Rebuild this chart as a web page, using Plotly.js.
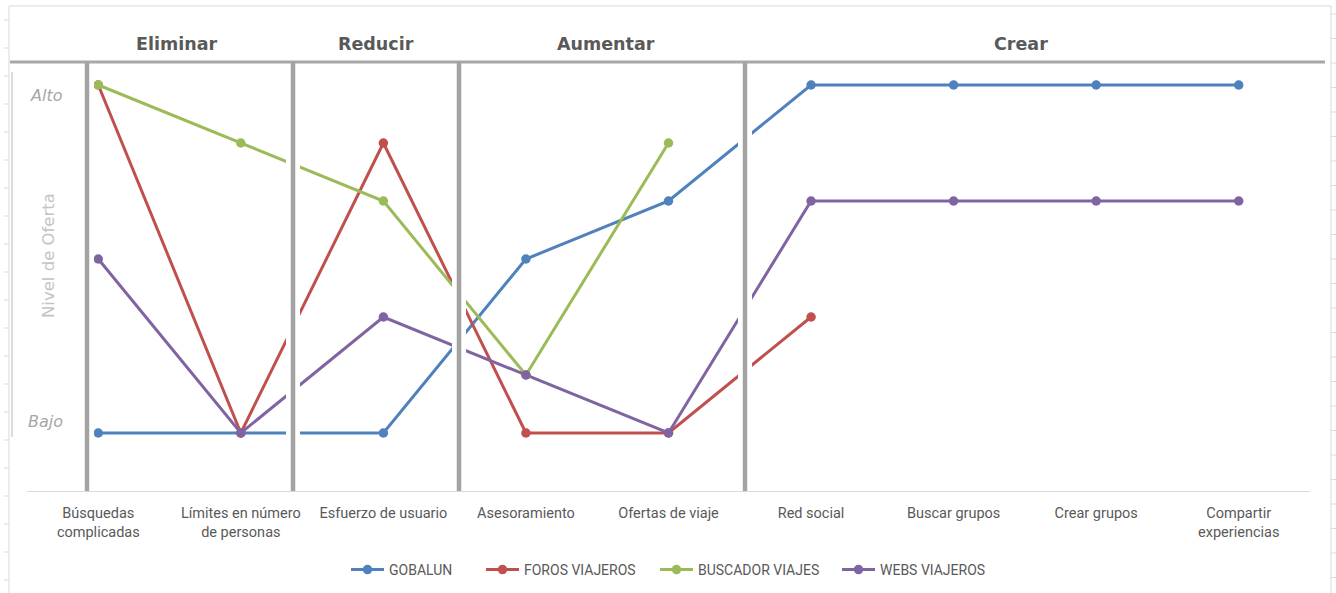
<!DOCTYPE html>
<html>
<head>
<meta charset="utf-8">
<script src="https://cdn.plot.ly/plotly-3.0.1.min.js"></script>
<style>html,body{margin:0;padding:0;background:#fff;}#chart{width:1336px;height:593px;}</style>
</head>
<body>
<div id="chart"></div>
<script>
// ---- data ----
const categories = ['Búsquedas<br>complicadas', 'Límites en número<br>de personas', 'Esfuerzo de usuario',
  'Asesoramiento', 'Ofertas de viaje', 'Red social', 'Buscar grupos', 'Crear grupos', 'Compartir<br>experiencias'];
const seriesNames = ['GOBALUN', 'FOROS VIAJEROS', 'BUSCADOR VIAJES', 'WEBS VIAJEROS'];
const gobalun = [1, 1, 1, 4, 5, 7, 7, 7, 7];
const foros = [7, 1, 6, 1, 1, 3, null, null, null];
const buscador = [7, 6, 5, 2, 6, null, null, null, null];
const webs = [4, 1, 3, 2, 1, 5, 5, 5, 5];
const groupLabels = ['Eliminar', 'Reducir', 'Aumentar', 'Crear'];
const levelLabels = ['Alto', 'Bajo'];
const yTitle = 'Nivel de Oferta';

// ---- layout geometry ----
const W = 1336, H = 593;
const M = {l: 27, r: 26, t: 27, b: 102, autoexpand: false};
const PW = W - M.l - M.r, PH = H - M.t - M.b;
const px2x = px => (px - M.l) / PW * 9 - 0.5;       // data x on category axis
const py2y = py => (M.t + PH - py) / PH * 8;          // data y
const px2p = px => (px - M.l) / PW;                   // paper x
const py2p = py => (M.t + PH - py) / PH;              // paper y

const colors = ['#4F81BD', '#C0504D', '#9BBB59', '#8064A2'];
const allSeries = [gobalun, foros, buscador, webs];
const legendIds = ['legend', 'legend2', 'legend3', 'legend4'];
const legendPx = [346, 481, 655, 837];

const traces = allSeries.map((vals, i) => ({
  type: 'scatter', mode: 'lines+markers',
  x: categories, y: vals, name: seriesNames[i],
  line: {color: colors[i], width: 3},
  marker: {color: colors[i], size: 9.5},
  connectgaps: false,
  legend: legendIds[i]
}));

const shapes = [];
// outer frame
shapes.push({type: 'rect', xref: 'paper', yref: 'paper', x0: px2p(9), x1: px2p(1331), y0: py2p(6), y1: py2p(610),
  line: {color: '#d9d9d9', width: 1}, layer: 'below'});
for (let py = 20; py < H; py += 28) {
  shapes.push({type: 'line', xref: 'paper', yref: 'paper', x0: px2p(4), x1: px2p(9), y0: py2p(py), y1: py2p(py),
    line: {color: '#d9d9d9', width: 1}});
}
for (let py = 14; py < H; py += 24.5) {
  shapes.push({type: 'line', xref: 'paper', yref: 'paper', x0: px2p(1331), x1: px2p(1336), y0: py2p(py), y1: py2p(py),
    line: {color: '#d9d9d9', width: 1}});
}
// inner left line
shapes.push({type: 'line', xref: 'paper', yref: 'paper', x0: px2p(12), x1: px2p(12), y0: py2p(72), y1: py2p(437),
  line: {color: '#d0d0d0', width: 1.5}});

// separators
const sepPx = [87, 293, 459, 745];
sepPx.forEach(p => {
  shapes.push({type: 'rect', xref: 'x', yref: 'y', x0: px2x(p - 7), x1: px2x(p + 7), y0: py2y(489), y1: py2y(63),
    fillcolor: '#ffffff', line: {width: 0}, layer: 'above'});
});
// top line
shapes.push({type: 'line', xref: 'paper', yref: 'y', x0: px2p(10), x1: px2p(1325), y0: py2y(62), y1: py2y(62),
  line: {color: '#a8a8a8', width: 3}, layer: 'above'});
sepPx.forEach(p => {
  shapes.push({type: 'line', xref: 'x', yref: 'y', x0: px2x(p), x1: px2x(p), y0: py2y(494), y1: py2y(62),
    line: {color: '#a3a3a3', width: 4.5}, layer: 'above'});
});

const groupPx = [176, 376, 606, 1021];
const annotations = groupLabels.map((t, i) => ({
  text: '<b>' + t + '</b>', xref: 'paper', yref: 'paper', x: px2p(groupPx[i]), y: py2p(44),
  xanchor: 'center', yanchor: 'middle', showarrow: false,
  font: {family: 'DejaVu Sans, sans-serif', size: 17.5, color: '#595959'}
}));
annotations.push({text: '<i>' + levelLabels[0] + '</i>', xref: 'paper', yref: 'paper', x: px2p(46), y: py2p(95),
  xanchor: 'center', yanchor: 'middle', showarrow: false,
  font: {family: 'DejaVu Sans, sans-serif', size: 16, color: '#a6a6a6'}});
annotations.push({text: '<i>' + levelLabels[1] + '</i>', xref: 'paper', yref: 'paper', x: px2p(45), y: py2p(421),
  xanchor: 'center', yanchor: 'middle', showarrow: false,
  font: {family: 'DejaVu Sans, sans-serif', size: 16, color: '#a6a6a6'}});
annotations.push({text: yTitle, xref: 'paper', yref: 'paper', x: px2p(48), y: py2p(256), textangle: -90,
  xanchor: 'center', yanchor: 'middle', showarrow: false,
  font: {family: 'DejaVu Sans, sans-serif', size: 16.5, color: '#c4c4c4'}});

const layout = {
  width: W, height: H, margin: M,
  paper_bgcolor: '#ffffff', plot_bgcolor: '#ffffff',
  showlegend: true,
  xaxis: {type: 'category', range: [-0.5, 8.5], showgrid: false, zeroline: false,
    showline: true, linecolor: '#d9d9d9', linewidth: 1, ticks: '', ticklabelstandoff: 9,
    tickfont: {family: 'Roboto, sans-serif', size: 14.5, color: '#595959'}},
  yaxis: {range: [0, 8], showgrid: false, zeroline: false, showline: false, showticklabels: false, ticks: ''},
  shapes: shapes,
  annotations: annotations
};
legendIds.forEach((id, i) => {
  layout[id] = {orientation: 'h', x: px2p(legendPx[i]), xanchor: 'left', y: py2p(570), yanchor: 'middle',
    font: {family: 'Roboto, sans-serif', size: 14, color: '#595959'}, itemwidth: 33,
    bgcolor: 'rgba(0,0,0,0)'};
});

Plotly.newPlot('chart', traces, layout, {displayModeBar: false, staticPlot: true});
</script>
</body>
</html>
